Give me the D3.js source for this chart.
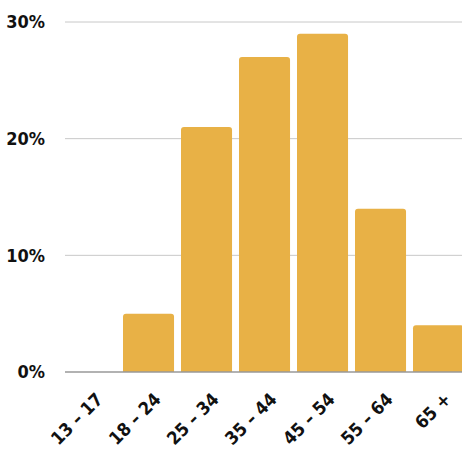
<!DOCTYPE html>
<html lang="en">
<head>
<meta charset="UTF-8">
<title>Age distribution</title>
<script src="https://d3js.org/d3.v7.min.js"></script>
<style>
  body { margin: 0; background: #fff; }
  svg { display: block; }
  text { font-family: "DejaVu Sans Condensed", "Liberation Sans Narrow", sans-serif; font-weight: bold; fill: #111; }
</style>
</head>
<body>
<div id="chart"></div>
<script>
const ageGroups = ["13 – 17", "18 – 24", "25 – 34", "35 – 44", "45 – 54", "55 – 64", "65 +"];
const shares = [0, 5, 21, 27, 29, 14, 4];
const yTicks = [0, 10, 20, 30];

const W = 462, H = 457;
const margin = {top: 22, right: 0, bottom: 85, left: 65};
const plotH = H - margin.top - margin.bottom;
const step = 58, pad = 0.12;

const svg = d3.select("#chart").append("svg")
    .attr("width", W).attr("height", H);

const x = d3.scaleBand()
    .domain(ageGroups)
    .range([margin.left, margin.left + step * (ageGroups.length - pad)])
    .paddingInner(pad)
    .paddingOuter(0);

const y = d3.scaleLinear()
    .domain([0, 30])
    .range([margin.top + plotH, margin.top]);

// gridlines
svg.append("g").selectAll("line")
    .data(yTicks.filter(d => d > 0))
    .join("line")
    .attr("x1", margin.left).attr("x2", W)
    .attr("y1", d => y(d)).attr("y2", d => y(d))
    .attr("stroke", "#c8c8c8").attr("stroke-width", 1);

// y labels
svg.append("g").selectAll("text")
    .data(yTicks)
    .join("text")
    .attr("x", 45).attr("y", d => y(d))
    .attr("dy", "0.36em")
    .attr("text-anchor", "end")
    .style("font-size", "18px")
    .text(d => d + "%");

// bars with slightly rounded tops
const r = 3;
svg.append("g").selectAll("path")
    .data(ageGroups.map((g, i) => ({g, v: shares[i]})).filter(d => d.v > 0))
    .join("path")
    .attr("fill", "#e8b146")
    .attr("d", d => {
        const x0 = x(d.g), w = x.bandwidth(), y0 = y(d.v), yb = y(0);
        return `M${x0},${yb}V${y0 + r}Q${x0},${y0} ${x0 + r},${y0}H${x0 + w - r}Q${x0 + w},${y0} ${x0 + w},${y0 + r}V${yb}Z`;
    });

// baseline
svg.append("line")
    .attr("x1", margin.left).attr("x2", W)
    .attr("y1", y(0)).attr("y2", y(0))
    .attr("stroke", "#999").attr("stroke-width", 1.5);

// x labels
svg.append("g").selectAll("text")
    .data(ageGroups)
    .join("text")
    .attr("transform", d => `translate(${x(d) + x.bandwidth() / 2 + 9},${y(0) + 24}) rotate(-45)`)
    .attr("text-anchor", "end")
    .attr("dy", "0.35em")
    .style("font-size", "18px")
    .text(d => d);
</script>
</body>
</html>
